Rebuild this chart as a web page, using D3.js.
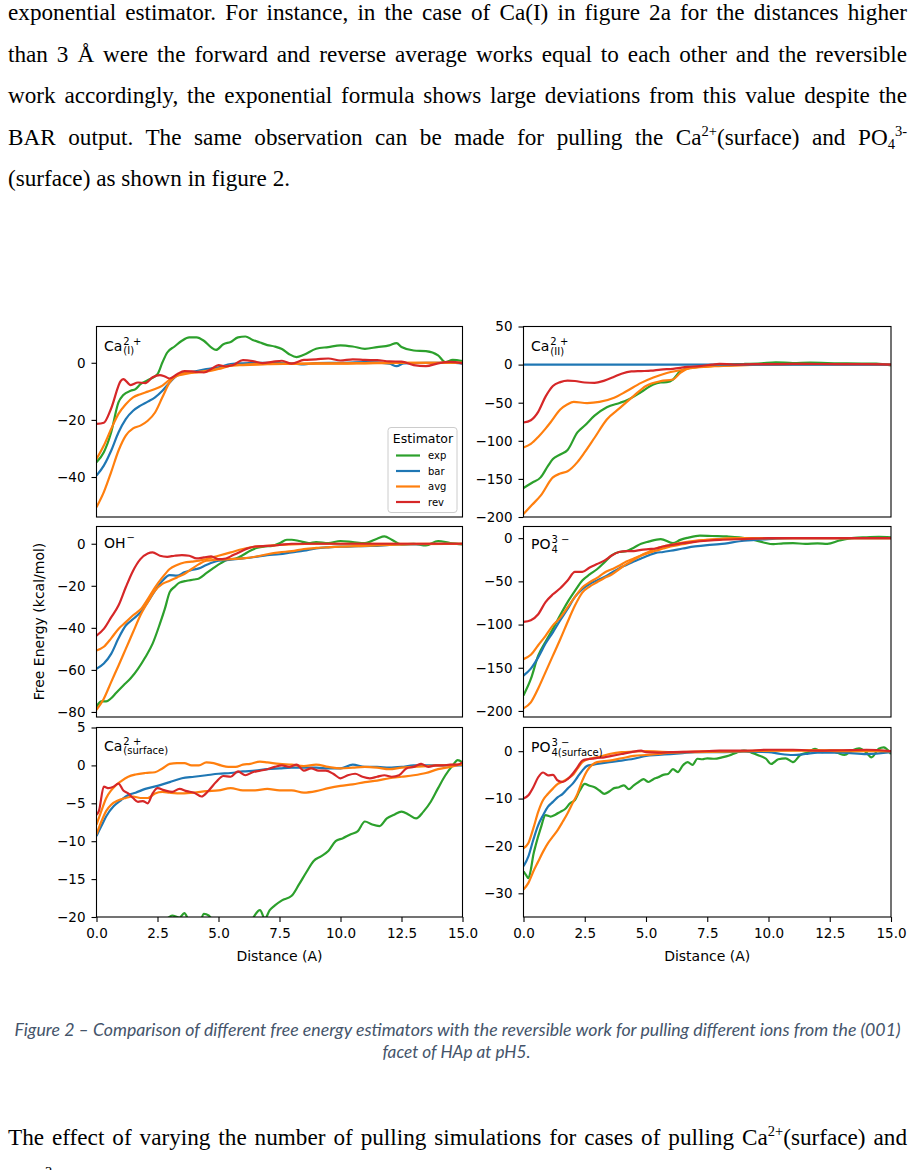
<!DOCTYPE html>
<html>
<head>
<meta charset="utf-8">
<script src="https://cdn.jsdelivr.net/npm/d3@7"></script>
<style>
  body { margin: 0; background: #fff; width: 915px; height: 1170px; overflow: hidden; position: relative; }
  .ln { position: absolute; left: 8px; width: 899px; font-family: "Liberation Serif", "Times New Roman", serif;
        font-size: 23.2px; line-height: 24px; color: #000; text-align: justify; text-align-last: justify; white-space: nowrap; }
  .ln.last { text-align-last: left; }
  .ln sup, .ln sub { font-size: 14.5px; line-height: 0; vertical-align: baseline; position: relative; }
  .ln sup { top: -9px; }
  .ln sub { top: 4px; }
  #fig { position: absolute; left: 0; top: 0; }
</style>
</head>
<body>
<div class="ln" style="top:0px">exponential estimator. For instance, in the case of Ca(I) in figure 2a for the distances higher</div>
<div class="ln" style="top:41.5px">than 3 Å were the forward and reverse average works equal to each other and the reversible</div>
<div class="ln" style="top:83px">work accordingly, the exponential formula shows large deviations from this value despite the</div>
<div class="ln" style="top:124.5px">BAR output. The same observation can be made for pulling the Ca<sup>2+</sup>(surface) and PO<sub>4</sub><sup>3-</sup></div>
<div class="ln last" style="top:166px">(surface) as shown in figure 2.</div>
<div class="ln" style="top:1125px">The effect of varying the number of pulling simulations for cases of pulling Ca<sup>2+</sup>(surface) and</div>
<div class="ln last" style="top:1166px">PO<sub>4</sub><sup>3-</sup></div>
<svg id="fig" width="915" height="1170"></svg>
<script>
// Distance axis (A)
const distanceTicks = [0, 2.5, 5, 7.5, 10, 12.5, 15];
const estimators = ['exp', 'bar', 'avg', 'rev'];
const colors = { exp: '#2ca02c', bar: '#1f77b4', avg: '#ff7f0e', rev: '#d62728' };

// Ca(I)
const caI_yDomain = [-54, 12.7];
const caI_yTicks = [-40, -20, 0];
const caI_exp = [[0,-34.8],[0.3,-31.3],[0.6,-24.4],[0.9,-13.9],[1.1,-11.3],[1.4,-9.8],[1.6,-9.2],[1.8,-7.5],[2.2,-5.7],[2.5,-4],[2.7,0.1],[2.9,3.6],[3.2,5.7],[3.5,7.7],[3.8,8.9],[4.1,8.9],[4.4,7.7],[4.7,5.4],[4.9,4.5],[5.2,6.5],[5.5,7.3],[5.8,8.9],[6.1,9.2],[6.4,8.0],[6.7,7.1],[7.0,6.2],[7.3,5.7],[7.6,4.8],[7.9,3.0],[8.2,2.0],[8.5,2.8],[9.0,4.9],[9.5,5.5],[10,6.1],[10.5,5.7],[11,4.9],[11.5,5.5],[12,6.1],[12.3,6.9],[12.5,5.5],[13,4.3],[13.5,4.1],[14,2.6],[14.3,0.2],[14.6,1.0],[15,0.6]];
const caI_bar = [[0,-39.5],[0.3,-36],[0.6,-30.8],[0.9,-24.4],[1.2,-19.7],[1.5,-16.8],[1.8,-15],[2.1,-13.6],[2.4,-12.1],[2.7,-9.8],[3.0,-6.9],[3.3,-4.5],[3.6,-3.6],[4.0,-3.1],[4.5,-2.2],[5.0,-1.6],[5.5,-0.5],[6,-0.2],[7,0],[8,-0.2],[8.5,-0.6],[9,-0.1],[10,0],[11,0.2],[12,-0.3],[12.3,-1.2],[12.6,-0.2],[13.5,0],[14.5,0],[15,-0.3]];
const caI_avgFwd = [[0,-33.7],[0.3,-29],[0.6,-23.2],[0.9,-17.9],[1.2,-14.5],[1.5,-12.1],[1.8,-11],[2.1,-10.1],[2.4,-9.2],[2.7,-8],[3.0,-5.9],[3.3,-4.5],[3.6,-3.6],[4.0,-3.4],[4.5,-3.1],[5.0,-2.2],[5.5,-1.0],[6,-0.7],[7,-0.4],[8,-0.3],[9,-0.2],[10,-0.2],[11,-0.1],[12,0],[13,0],[14,0],[15,0]];
const caI_avgRev = [[0,-50.6],[0.3,-45.3],[0.6,-38.3],[0.9,-30.8],[1.2,-25.5],[1.5,-23],[1.8,-22],[2.1,-20.3],[2.4,-17.4],[2.7,-12.1],[3.0,-6.9],[3.3,-4.5],[3.6,-4],[4.0,-3.4],[4.5,-2.8],[5.0,-2],[5.5,-1],[6,-0.8],[7,-0.5],[8,-0.4],[9,-0.3],[10,-0.3],[11,-0.2],[12,-0.1],[13,0],[14,0],[15,0]];
const caI_rev = [[0,-21.4],[0.3,-21],[0.6,-16],[1.0,-6.3],[1.1,-5.7],[1.4,-7.8],[1.7,-6.9],[2.0,-7.1],[2.3,-5.1],[2.6,-4.3],[2.8,-4.8],[3.0,-5.5],[3.3,-4],[3.6,-2.9],[4.0,-3.1],[4.4,-3.4],[4.7,-2.2],[5.0,-0.8],[5.3,-1.3],[5.6,-0.8],[6.0,0.9],[6.4,0.6],[6.8,-0.1],[7.2,0.3],[7.6,0.7],[8.0,-0.3],[8.5,1.0],[9,1.2],[9.5,1.5],[10,0.8],[10.5,1.2],[11,1.0],[11.5,0.9],[12,0.5],[12.5,0.4],[13,-0.8],[13.5,-1.2],[14,-0.2],[14.5,0.3],[15,-0.2]];

// Ca(II)
const caII_yDomain = [-200, 50];
const caII_yTicks = [-200, -150, -100, -50, 0, 50];
const caII_exp = [[0,-162],[0.35,-155],[0.7,-148],[1.0,-133],[1.2,-124],[1.5,-118],[1.8,-112],[2.2,-89],[2.5,-80],[2.9,-67],[3.4,-56],[3.95,-50],[4.2,-47],[4.5,-42],[4.8,-36],[5.3,-26],[5.6,-23.5],[5.85,-23],[6.1,-19.6],[6.4,-8.7],[6.8,-4.3],[7.5,-2.2],[8.3,0],[9,0.8],[9.7,1.8],[10.3,3],[11,2],[11.7,2.5],[12.4,2],[13.2,1.5],[14.4,1.3],[15,-1]];
const caII_bar = [[0,0],[5,0],[10,0],[15,0]];
const caII_avgFwd = [[0,-108.7],[0.3,-104],[0.6,-95],[0.9,-84],[1.1,-76],[1.5,-59],[1.8,-52],[2.05,-49],[2.6,-50.5],[3.1,-49],[3.7,-43.5],[4.2,-35],[4.8,-24],[5.3,-17],[5.85,-11],[6.4,-7.4],[6.9,-4.3],[7.8,-2.2],[8.6,-1],[9.7,0],[11,0.5],[12.5,0.5],[14,0.3],[15,0]];
const caII_avgRev = [[0,-196],[0.35,-184],[0.7,-172],[1.2,-148],[1.5,-143],[1.8,-140],[2.2,-128],[2.5,-115],[2.9,-96],[3.4,-72],[3.95,-56.5],[4.5,-41],[5.0,-28],[5.6,-21.7],[6.1,-19.6],[6.4,-11],[6.8,-4.3],[7.5,-2.2],[8.3,-1.3],[9.7,0],[11,0.3],[12.5,0.3],[14,0.2],[15,0]];
const caII_rev = [[0,-76],[0.3,-73],[0.6,-62],[0.9,-42],[1.2,-28],[1.5,-23],[1.8,-21],[2.1,-21.5],[2.5,-23.5],[2.9,-24],[3.3,-21],[3.7,-16],[4.0,-12],[4.4,-9],[4.8,-8.5],[5.2,-8],[5.6,-6.5],[6.1,-5.5],[6.7,-3],[7.2,-2],[7.7,0],[8.0,1],[8.6,0],[9.5,0.5],[10,0.5],[11,1],[12,0.8],[13,0.5],[14,0.5],[15,0]];

// OH-
const oh_yDomain = [-82.4, 8.2];
const oh_yTicks = [-80, -60, -40, -20, 0];
const oh_exp = [[0,-77.5],[0.2,-75],[0.4,-75],[0.6,-73.5],[0.8,-71],[1.1,-67.4],[1.4,-64],[1.7,-59.5],[2.0,-54],[2.3,-47.5],[2.6,-38],[2.8,-31],[3.0,-23],[3.2,-20.5],[3.4,-18.5],[3.7,-17.6],[4.0,-17],[4.2,-16.5],[4.5,-14],[4.8,-11.5],[5.1,-9.2],[5.4,-7.5],[5.7,-7],[6.0,-5.4],[6.3,-3.3],[6.6,-1.9],[6.9,-1.3],[7.2,-1],[7.5,0.2],[7.8,1.9],[8.0,1.9],[8.3,1.3],[8.7,0.3],[9,0.8],[9.5,0.3],[10,1.3],[10.5,0.8],[11,0.3],[11.5,2.4],[11.8,3.5],[12.1,1.9],[12.5,-0.3],[13,0],[13.5,-0.8],[14,1.3],[14.5,0.3],[15,-0.3]];
const oh_bar = [[0,-59.5],[0.3,-57],[0.6,-52.4],[0.9,-45],[1.2,-38.9],[1.5,-35.8],[1.8,-32.6],[2.1,-27.8],[2.4,-22.3],[2.7,-17.6],[3.0,-14.9],[3.3,-15.2],[3.6,-13.6],[3.9,-12.5],[4.2,-11.7],[4.5,-10.1],[5.0,-8.1],[5.5,-7.6],[6.0,-7],[6.5,-6.3],[7,-5.4],[7.5,-5],[8,-4.1],[8.5,-3.3],[9,-2.2],[9.5,-1.7],[10,-1.4],[10.5,-1.3],[11,-1.1],[11.5,-1],[12,-0.5],[13,-0.3],[14,0],[15,0]];
const oh_avgFwd = [[0,-50.8],[0.3,-49],[0.6,-45],[0.9,-40.5],[1.2,-37.3],[1.5,-34],[1.8,-31.3],[2.1,-26.3],[2.4,-20.7],[2.7,-16],[3.0,-12],[3.3,-10.1],[3.6,-8.9],[3.9,-8.5],[4.2,-8.1],[4.5,-7.3],[5.0,-5.7],[5.5,-4.1],[6,-2.5],[6.5,-1.4],[7,-1],[7.5,-0.6],[8,-0.3],[9,0],[12,0],[15,0]];
const oh_avgRev = [[0,-79],[0.3,-73.7],[0.6,-65.8],[0.9,-58],[1.2,-50],[1.5,-42],[1.8,-34],[2.1,-27.8],[2.4,-22.3],[2.7,-19.1],[3.0,-17.6],[3.3,-16],[3.6,-14.4],[3.9,-12],[4.2,-9.7],[4.5,-8.1],[5,-7.6],[5.5,-7.3],[6,-7],[6.5,-6.2],[7,-5],[7.5,-4.1],[8,-3.5],[8.5,-2.5],[9,-2],[9.5,-1.7],[10,-1.4],[11,-1],[12,-0.5],[13,-0.2],[15,0]];
const oh_rev = [[0,-43.7],[0.3,-40.5],[0.6,-35],[0.9,-29.4],[1.2,-20.7],[1.5,-12.8],[1.8,-7.3],[2.1,-4.6],[2.3,-4.1],[2.6,-5.7],[2.9,-6.2],[3.2,-5.7],[3.5,-5.4],[3.8,-5.7],[4.1,-7],[4.4,-6.5],[4.7,-6],[5.0,-7.3],[5.3,-7],[5.6,-5.4],[5.9,-3.8],[6.2,-2.2],[6.5,-1.3],[7.0,-1],[7.5,-0.6],[8,0],[9,0],[10,0],[11,0],[12,0],[13,0],[14,0],[15,0]];

// PO4 3-
const po4_yDomain = [-207, 13.5];
const po4_yTicks = [-200, -150, -100, -50, 0];
const po4_exp = [[0,-182],[0.3,-163],[0.6,-136],[0.9,-120],[1.2,-105],[1.5,-89],[1.8,-74],[2.1,-61],[2.4,-49],[2.7,-42],[3.0,-36],[3.3,-28],[3.6,-20],[3.9,-16],[4.2,-15],[4.5,-11],[4.8,-6.5],[5.1,-4],[5.6,-1],[6.1,-5.8],[6.4,-2],[6.7,0.4],[7.2,3],[7.7,2.5],[8.3,2],[8.8,1],[9.4,-2],[9.8,-5],[10.2,-7],[10.6,-6],[11,-5.8],[11.5,-6.5],[12,-6],[12.4,-6.5],[12.9,-2.7],[13.5,0.4],[14,1],[14.5,1.5],[15,1]];
const po4_bar = [[0,-159],[0.3,-151],[0.6,-138],[0.9,-122],[1.2,-109],[1.5,-95],[1.8,-82],[2.1,-68],[2.4,-59],[2.7,-53],[3.0,-49],[3.3,-45],[3.6,-40],[3.9,-35],[4.2,-31],[4.5,-27],[4.8,-23.5],[5.1,-20],[5.4,-17],[5.7,-16],[6.0,-14.6],[6.5,-12],[7,-9.6],[7.5,-8],[8,-7],[9,-3],[10,-1],[11,0],[13,0],[15,0]];
const po4_avgFwd = [[0,-140],[0.3,-135],[0.6,-124],[0.9,-113],[1.2,-101],[1.5,-92],[1.8,-80],[2.1,-68],[2.4,-57],[2.7,-51],[3.0,-46],[3.3,-40],[3.6,-36],[3.9,-32],[4.2,-27],[4.5,-23.5],[4.8,-20],[5.1,-17],[5.4,-14.6],[5.7,-12],[6.0,-9.6],[6.5,-7],[7,-4],[7.5,-2],[8,-1],[9,0],[11,0],[13,0],[15,0]];
const po4_avgRev = [[0,-197],[0.3,-190],[0.6,-174],[0.9,-155],[1.2,-136],[1.5,-117],[1.8,-97],[2.1,-78],[2.4,-63],[2.7,-56],[3.0,-51],[3.3,-46],[3.6,-42],[3.9,-36],[4.2,-30],[4.5,-25],[4.8,-20],[5.1,-16],[5.4,-12],[5.7,-9.6],[6.0,-8],[6.5,-5],[7,-3],[7.5,-2],[8,-1],[9,0],[11,0],[13,0],[15,0]];
const po4_rev = [[0,-97],[0.3,-95],[0.6,-88],[0.9,-74],[1.2,-65],[1.5,-58],[1.8,-49],[2.1,-39],[2.4,-39],[2.7,-34],[3.0,-30],[3.3,-26],[3.6,-20],[3.9,-16],[4.2,-15],[4.5,-15],[4.8,-13.5],[5.1,-12.7],[5.4,-12],[5.7,-9.6],[6.0,-8],[6.5,-5.8],[7,-4.2],[7.5,-3],[8,-2],[9,-1],[10,0],[12,0],[15,0]];

// Ca(surface)
const caS_yDomain = [-20, 5];
const caS_yTicks = [-20, -15, -10, -5, 0, 5];
const caS_exp = [[0,-26],[1,-24],[2,-22],[2.9,-20.2],[3.1,-19.8],[3.4,-20.1],[3.6,-19.5],[3.8,-20.5],[4.2,-21],[4.4,-19.6],[4.6,-19.8],[4.8,-20.6],[5.5,-21.5],[6.2,-21],[6.7,-19.1],[6.9,-20.2],[7.1,-19.1],[7.3,-18.5],[7.6,-17.8],[8.0,-17.2],[8.3,-15.7],[8.6,-14.1],[8.9,-12.6],[9.2,-12],[9.5,-11.3],[9.8,-10],[10.1,-9.6],[10.4,-9.1],[10.7,-8.7],[11.0,-7.4],[11.3,-7.8],[11.6,-8],[11.9,-7],[12.2,-6.5],[12.5,-6.1],[12.8,-6.5],[13.1,-7],[13.4,-6.1],[13.7,-4.8],[14.0,-3],[14.3,-1.3],[14.6,0],[14.8,0.7],[15,0.4]];
const caS_bar = [[0,-9.3],[0.2,-8],[0.4,-6.7],[0.7,-5.4],[1.0,-4.6],[1.3,-3.9],[1.6,-3.6],[2.0,-3.1],[2.5,-2.7],[3.0,-2.2],[3.5,-1.7],[4.0,-1.5],[4.5,-1.3],[5.0,-1.1],[5.5,-1.0],[6.0,-0.8],[6.5,-0.7],[7,-0.5],[7.5,-0.4],[8,-0.3],[9,-0.3],[9.5,-0.4],[10,-0.4],[10.5,0.1],[11,-0.2],[11.5,-0.2],[12,-0.3],[12.5,-0.2],[13,0],[14,0],[15,0]];
const caS_avgFwd = [[0,-7.8],[0.2,-6],[0.4,-4.3],[0.6,-3.3],[0.8,-2.6],[1.0,-2.1],[1.3,-1.5],[1.6,-1.2],[2.0,-1.0],[2.4,-0.9],[2.7,-0.4],[3.0,0.2],[3.3,0.3],[3.6,0.3],[3.9,0],[4.2,0],[4.5,0.4],[4.8,0.3],[5.1,0],[5.4,-0.2],[5.7,-0.2],[6.0,0.1],[6.3,0.2],[6.7,0.5],[7.0,0.4],[7.5,0.2],[8.0,0.1],[8.5,-0.1],[9.0,0.1],[9.5,-0.2],[10,-0.4],[10.5,-0.3],[11,-0.2],[11.5,-0.3],[12,-0.5],[12.5,-0.3],[13,-0.2],[14,0],[15,0.1]];
const caS_avgRev = [[0,-9.1],[0.2,-7.4],[0.4,-6],[0.6,-5.2],[0.9,-4.6],[1.2,-4.3],[1.5,-4.1],[1.8,-4.3],[2.1,-4.3],[2.4,-3.7],[2.7,-3.5],[3.0,-3.6],[3.5,-3.7],[4.0,-3.6],[4.5,-3.4],[5.0,-3.3],[5.5,-3.0],[6.0,-3.3],[6.5,-3.3],[7.0,-3.1],[7.5,-3.3],[8.0,-3.3],[8.5,-3.6],[9.0,-3.4],[9.5,-3.0],[10,-2.7],[10.5,-2.5],[11,-2.2],[11.5,-2.0],[12,-1.7],[12.5,-1.5],[13,-1.3],[13.5,-1.0],[14,-0.5],[14.5,-0.2],[15,0.2]];
const caS_rev = [[0,-6.5],[0.1,-6],[0.3,-2.8],[0.5,-3.0],[0.7,-2.8],[0.9,-2.4],[1.1,-3.3],[1.3,-3.7],[1.5,-4.3],[1.7,-4.8],[1.9,-4.7],[2.1,-5],[2.3,-3.7],[2.5,-3],[2.8,-3.3],[3.1,-3.5],[3.4,-3.1],[3.7,-3.4],[4.0,-3.6],[4.3,-4.1],[4.6,-3.3],[4.9,-2.2],[5.2,-1.4],[5.5,-1.5],[5.8,-0.8],[6.1,-1.3],[6.4,-0.9],[6.7,-0.7],[7.0,-0.5],[7.3,-0.2],[7.6,0],[7.9,-0.2],[8.2,0.1],[8.5,-0.7],[8.8,-0.4],[9.1,-0.7],[9.4,-0.7],[9.7,-1.1],[10.0,-1.7],[10.3,-1.3],[10.6,-1.1],[10.9,-1.5],[11.2,-1.7],[11.5,-1.5],[11.8,-1.3],[12.1,-1.5],[12.4,-1.3],[12.7,-0.4],[13.0,-0.2],[13.3,0.2],[13.6,-0.2],[13.9,0],[14.2,0],[14.5,0.1],[14.8,0.1],[15,0.4]];

// PO4 3-(surface)
const po4S_yDomain = [-35, 5];
const po4S_yTicks = [-30, -20, -10, 0];
const po4S_exp = [[0,-25.4],[0.1,-26.1],[0.2,-26.8],[0.3,-25],[0.4,-21.9],[0.5,-19.8],[0.7,-16.3],[0.9,-13.5],[1.1,-13.8],[1.3,-13.4],[1.5,-12.8],[1.7,-12.2],[1.9,-11],[2.1,-10.3],[2.3,-8.3],[2.5,-6.9],[2.7,-7.3],[2.9,-7.6],[3.1,-8.3],[3.3,-9],[3.5,-8.5],[3.7,-7.8],[3.9,-7.6],[4.1,-7.2],[4.3,-8],[4.5,-7.2],[4.7,-6.5],[4.9,-5.9],[5.1,-6.5],[5.3,-5.9],[5.5,-5.5],[5.7,-5],[5.9,-4.8],[6.1,-3.8],[6.3,-4.4],[6.5,-3],[6.7,-2.3],[6.9,-2.9],[7.1,-1.6],[7.3,-1.7],[7.5,-1.5],[7.8,-1.6],[8.1,-1.3],[8.4,-0.9],[8.7,-0.3],[9.0,0.1],[9.3,-0.3],[9.6,-0.9],[9.9,-1.6],[10.1,-2.7],[10.4,-1.7],[10.7,-1.5],[11.0,-2.3],[11.3,-0.8],[11.6,-0.3],[11.9,0.5],[12.2,-0.2],[12.5,0.1],[12.8,-0.3],[13.1,-0.8],[13.4,0.1],[13.7,0.6],[14.0,-0.3],[14.2,-1.3],[14.5,0.5],[14.7,0.8],[15,-0.6]];
const po4S_bar = [[0,-24.3],[0.2,-22.2],[0.4,-18.7],[0.6,-15.6],[0.8,-13.5],[1.0,-11.7],[1.2,-10.7],[1.4,-9.7],[1.6,-9],[1.8,-7.9],[2.0,-6.9],[2.2,-5.5],[2.4,-4.1],[2.6,-3.1],[2.8,-2.9],[3.0,-2.7],[3.5,-2.3],[4,-2.0],[4.5,-1.6],[5,-1.0],[5.5,-0.8],[6,-0.6],[6.5,-0.4],[7,-0.2],[8,-0.2],[9,-0.1],[10,-0.2],[10.5,-0.6],[11,-0.8],[11.5,-0.6],[12,-0.3],[13,-0.3],[14,-0.6],[15,-0.2]];
const po4S_avgFwd = [[0,-20.5],[0.2,-19.4],[0.4,-16.3],[0.6,-12.8],[0.8,-10.3],[1.0,-9],[1.2,-7.9],[1.4,-6.9],[1.6,-6.4],[1.8,-5.8],[2.0,-5.1],[2.2,-3.7],[2.4,-2.3],[2.7,-1.6],[3.0,-1.3],[3.5,-0.6],[4.0,-0.2],[4.5,-0.1],[5,0],[6,-0.2],[7,-0.1],[8,0],[9,0],[10,0.1],[11,0.1],[12,0.1],[13,0],[14,0],[15,0]];
const po4S_avgRev = [[0,-29.2],[0.2,-27.8],[0.4,-25.4],[0.6,-23.3],[0.8,-21.2],[1.0,-19.4],[1.2,-18],[1.4,-16.6],[1.6,-14.9],[1.8,-13.1],[2.0,-11],[2.2,-9],[2.4,-6.2],[2.6,-4.1],[2.8,-2.9],[3.0,-2.3],[3.5,-2],[4.0,-1.5],[4.5,-1.0],[5,-0.8],[5.5,-0.6],[6,-0.3],[7,-0.2],[8,-0.1],[9,0],[10,0.1],[11,0.2],[12,0.2],[13,0.2],[14,0.1],[15,0]];
const po4S_rev = [[0,-10],[0.2,-9.3],[0.4,-7.6],[0.6,-5.5],[0.8,-4.5],[1.0,-5.1],[1.2,-5],[1.4,-6.2],[1.6,-6.5],[1.8,-5.9],[2.0,-4.8],[2.2,-3.4],[2.4,-2.0],[2.6,-1.7],[2.8,-1.6],[3.0,-1.4],[3.3,-1.3],[3.6,-1.0],[4.0,-0.6],[4.4,-0.2],[4.8,0.1],[5.0,-0.2],[5.5,-0.3],[6,-0.2],[7,-0.1],[8,0.1],[9,0.1],[10,0.3],[11,0.3],[12,0.1],[13,0.2],[14,0.3],[15,0]];

const svg = d3.select('#fig');
const font = 'DejaVu Sans, sans-serif';
const colX = [[96.5, 462.5], [523.5, 891]];
const rowY = [[326.5, 517], [526.5, 717], [727.5, 917]];

const panels = [
  { col: 0, row: 0, yDomain: caI_yDomain, yTicks: caI_yTicks, base: 'Ca', sup: '2 +', sub: '(I)', labelY: 350.5,
    series: [['exp', caI_exp], ['bar', caI_bar], ['avg', caI_avgFwd], ['avg', caI_avgRev], ['rev', caI_rev]], legend: true },
  { col: 1, row: 0, yDomain: caII_yDomain, yTicks: caII_yTicks, base: 'Ca', sup: '2 +', sub: '(II)', labelY: 351,
    series: [['exp', caII_exp], ['avg', caII_avgFwd], ['avg', caII_avgRev], ['bar', caII_bar], ['rev', caII_rev]] },
  { col: 0, row: 1, yDomain: oh_yDomain, yTicks: oh_yTicks, base: 'OH', sup: '\u2212', sub: null, labelY: 548,
    series: [['exp', oh_exp], ['bar', oh_bar], ['avg', oh_avgFwd], ['avg', oh_avgRev], ['rev', oh_rev]] },
  { col: 1, row: 1, yDomain: po4_yDomain, yTicks: po4_yTicks, base: 'PO', sup: '3 \u2212', sub: '4', labelY: 549,
    series: [['exp', po4_exp], ['bar', po4_bar], ['avg', po4_avgFwd], ['avg', po4_avgRev], ['rev', po4_rev]] },
  { col: 0, row: 2, yDomain: caS_yDomain, yTicks: caS_yTicks, base: 'Ca', sup: '2 +', sub: '(surface)', labelY: 750.5,
    series: [['exp', caS_exp], ['bar', caS_bar], ['avg', caS_avgFwd], ['avg', caS_avgRev], ['rev', caS_rev]] },
  { col: 1, row: 2, yDomain: po4S_yDomain, yTicks: po4S_yTicks, base: 'PO', sup: '3 \u2212', sub: '4(surface)', labelY: 752,
    series: [['exp', po4S_exp], ['bar', po4S_bar], ['avg', po4S_avgFwd], ['avg', po4S_avgRev], ['rev', po4S_rev]] },
];

panels.forEach((p, i) => {
  const [x0, x1] = colX[p.col];
  const [y0, y1] = rowY[p.row];
  const x = d3.scaleLinear().domain([0, 15]).range([x0, x1]);
  const y = d3.scaleLinear().domain(p.yDomain).range([y1, y0]);
  const g = svg.append('g').attr('font-family', font);

  g.append('clipPath').attr('id', 'clip' + i)
    .append('rect').attr('x', x0).attr('y', y0).attr('width', x1 - x0).attr('height', y1 - y0);

  const line = d3.line()
    .x((d) => x(d[0]))
    .y((d) => y(d[1]))
    .curve(d3.curveMonotoneX);

  const lines = g.append('g').attr('clip-path', `url(#clip${i})`);
  p.series.forEach(([key, data]) => {
    lines.append('path')
      .datum(data)
      .attr('fill', 'none')
      .attr('stroke', colors[key])
      .attr('stroke-width', 2.2)
      .attr('stroke-linejoin', 'round')
      .attr('d', line);
  });

  // Y axis
  const yAxis = g.append('g')
    .attr('transform', `translate(${x0},0)`)
    .call(d3.axisLeft(y).tickValues(p.yTicks).tickSize(5).tickPadding(6).tickFormat(d3.format('d')));
  yAxis.select('.domain').remove();
  yAxis.selectAll('text').attr('font-size', 13.5).attr('fill', '#000').attr('font-family', font);
  yAxis.selectAll('line').attr('stroke', '#000').attr('stroke-width', 1.1);

  // X axis on bottom row only
  if (p.row === 2) {
    const xAxis = g.append('g')
      .attr('transform', `translate(0,${y1})`)
      .call(d3.axisBottom(x).tickValues(distanceTicks).tickSize(5).tickPadding(6).tickFormat(d3.format('.1f')));
    xAxis.select('.domain').remove();
    xAxis.selectAll('text').attr('font-size', 13.5).attr('fill', '#000').attr('font-family', font);
    xAxis.selectAll('line').attr('stroke', '#000').attr('stroke-width', 1.1);

    g.append('text')
      .attr('x', (x0 + x1) / 2).attr('y', 961)
      .attr('text-anchor', 'middle').attr('font-size', 14)
      .text('Distance (A)');
  }

  // Frame
  g.append('rect')
    .attr('x', x0).attr('y', y0).attr('width', x1 - x0).attr('height', y1 - y0)
    .attr('fill', 'none').attr('stroke', '#000').attr('stroke-width', 1.1);

  // Ion label
  const lx = x0 + 7.5;
  const t = g.append('text').attr('x', lx).attr('y', p.labelY).attr('font-size', 14).text(p.base);
  const w = t.node().getComputedTextLength();
  if (p.sup) {
    g.append('text').attr('x', lx + w + 1).attr('y', p.labelY - (p.sub ? 6 : 7))
      .attr('font-size', 10).attr('xml:space', 'preserve').text(p.sup);
  }
  if (p.sub) {
    g.append('text').attr('x', lx + w + 1).attr('y', p.labelY + 3.5)
      .attr('font-size', 10).text(p.sub);
  }

  if (p.legend) {
    const lg = g.append('g').attr('transform', 'translate(388,427.5)');
    lg.append('rect').attr('width', 69).attr('height', 85).attr('rx', 3)
      .attr('fill', '#fff').attr('fill-opacity', 0.8).attr('stroke', '#ccc').attr('stroke-width', 1);
    lg.append('text').attr('x', 35).attr('y', 15).attr('text-anchor', 'middle')
      .attr('font-size', 12.5).text('Estimator');
    estimators.forEach((key, k) => {
      const ey = 28 + k * 15.5;
      lg.append('line').attr('x1', 8).attr('x2', 32).attr('y1', ey).attr('y2', ey)
        .attr('stroke', colors[key]).attr('stroke-width', 2.2);
      lg.append('text').attr('x', 40).attr('y', ey + 3.5).attr('font-size', 10).text(key);
    });
  }
});

// Shared y label
svg.append('text')
  .attr('transform', 'translate(43.5,621.5) rotate(-90)')
  .attr('text-anchor', 'middle')
  .attr('font-family', font)
  .attr('font-size', 14)
  .text('Free Energy (kcal/mol)');

// Caption
const caption = svg.append('g')
  .attr('font-family', 'Lato, "Open Sans", sans-serif')
  .attr('font-style', 'italic')
  .attr('font-size', 17)
  .attr('fill', '#44546a')
  .attr('text-anchor', 'middle');
caption.append('text').attr('x', 457.5).attr('y', 1036)
  .attr('textLength', 886).attr('lengthAdjust', 'spacingAndGlyphs')
  .text('Figure 2 \u2013 Comparison of different free energy estimators with the reversible work for pulling different ions from the (001)');
caption.append('text').attr('x', 456.5).attr('y', 1058)
  .attr('textLength', 148).attr('lengthAdjust', 'spacingAndGlyphs')
  .text('facet of HAp at pH5.');
</script>
</body>
</html>
